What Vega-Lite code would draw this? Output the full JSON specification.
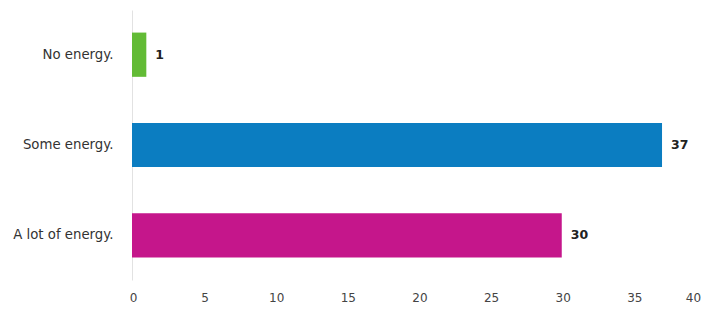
{
  "$schema": "https://vega.github.io/schema/vega-lite/v6.json",
  "width": 573,
  "height": 270,
  "autosize": {"type": "none"},
  "padding": {"left": 132, "top": 10, "right": 0, "bottom": 30},
  "background": "white",
  "config": {"view": {"stroke": null}, "font": "DejaVu Sans"},
  "data": {
    "values": [
      {"category": "No energy.", "count": 1},
      {"category": "Some energy.", "count": 37},
      {"category": "A lot of energy.", "count": 30}
    ]
  },
  "encoding": {
    "y": {
      "field": "category",
      "type": "nominal",
      "sort": null,
      "scale": {"paddingInner": 0.51, "paddingOuter": 0.25},
      "axis": {
        "title": null,
        "ticks": false,
        "domain": true,
        "domainColor": "#e2e2e2",
        "labelPadding": 19,
        "labelFontSize": 13.3,
        "labelColor": "#333333",
        "labelFont": "DejaVu Sans"
      }
    },
    "x": {
      "field": "count",
      "type": "quantitative",
      "scale": {"domain": [0, 40], "nice": false},
      "axis": {
        "title": null,
        "values": [0, 5, 10, 15, 20, 25, 30, 35, 40],
        "ticks": false,
        "domain": false,
        "grid": false,
        "labelPadding": 12,
        "labelFontSize": 12,
        "labelColor": "#444444",
        "labelFont": "DejaVu Sans",
        "labelFlush": false,
        "labelOffset": {"condition": {"test": "datum.value == 40", "value": -12}, "value": 1}
      }
    }
  },
  "layer": [
    {
      "mark": {"type": "bar"},
      "encoding": {
        "color": {
          "field": "category",
          "type": "nominal",
          "scale": {
            "domain": ["No energy.", "Some energy.", "A lot of energy."],
            "range": ["#62bb35", "#0b7dc1", "#c5168b"]
          },
          "legend": null
        }
      }
    },
    {
      "mark": {"type": "text", "align": "left", "dx": 9, "fontWeight": "bold", "fontSize": 12.5, "color": "#222222", "font": "DejaVu Sans"},
      "encoding": {"text": {"field": "count", "type": "quantitative"}}
    }
  ]
}
